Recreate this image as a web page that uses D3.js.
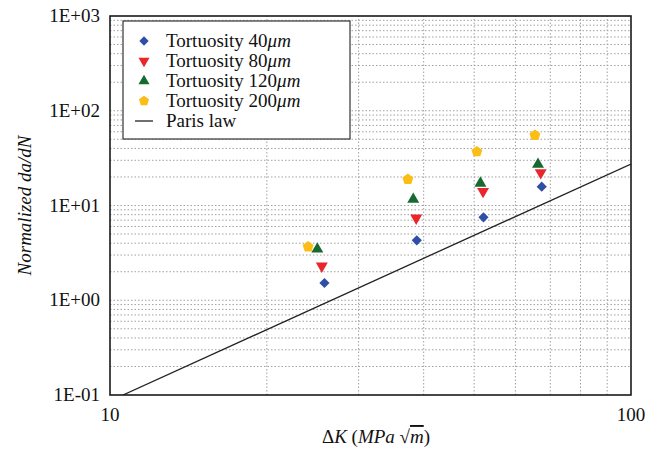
<!DOCTYPE html>
<html>
<head>
<meta charset="utf-8">
<script src="https://cdn.jsdelivr.net/npm/d3@7"></script>
<style>
  html, body { margin: 0; padding: 0; background: #fff; }
  svg { display: block; }
</style>
</head>
<body>
<svg id="chart" width="661" height="457"></svg>
<script>
// Stress intensity range (MPa·√m) and normalized crack growth rate per series
const series = ["Tortuosity 40", "Tortuosity 80", "Tortuosity 120", "Tortuosity 200"];
const deltaK40  = [25.8, 38.8, 52.1, 67.4];
const rate40    = [1.52, 4.29, 7.5, 15.8];
const deltaK80  = [25.5, 38.7, 52.0, 67.1];
const rate80    = [2.30, 7.38, 14.1, 22.2];
const deltaK120 = [25.0, 38.2, 51.4, 66.3];
const rate120   = [3.47, 11.6, 17.2, 27.2];
const deltaK200 = [24.0, 37.3, 50.6, 65.4];
const rate200   = [3.67, 18.9, 37.0, 55.0];

// Paris law reference line (end points)
const parisK    = [10.59, 100];
const parisRate = [0.1, 27.4];

const xTickValues = [10, 100];
const yTickValues = [0.1, 1, 10, 100, 1000];
const yTickLabels = ["1E-01", "1E+00", "1E+01", "1E+02", "1E+03"];

const colors = ["#2f4ea6", "#e8262b", "#176a2f", "#fbbd16"];
const FONT = "'Liberation Serif', 'Times New Roman', serif";

const svg = d3.select("#chart");
const margin = { left: 110, right: 30, top: 16, bottom: 62 };
const W = 661, H = 457;
const x = d3.scaleLog().domain([10, 100]).range([margin.left, W - margin.right]);
const y = d3.scaleLog().domain([0.1, 1000]).range([H - margin.bottom, margin.top]);

// dotted grid at every minor and major log step
const xGrid = [];
for (let v = 20; v < 100; v += 10) xGrid.push(v);
const yGrid = [];
for (let e = -1; e < 3; e++) for (let k = 1; k <= 9; k++) {
  const v = k * Math.pow(10, e);
  if (v > 0.1 * 1.0001) yGrid.push(v);
}
const grid = svg.append("g").attr("stroke", "#a0a0a0").attr("stroke-width", 1)
  .attr("stroke-dasharray", "1.5,2");
grid.selectAll("line.gx").data(xGrid).join("line")
  .attr("x1", d => x(d)).attr("x2", d => x(d))
  .attr("y1", y(0.1)).attr("y2", y(1000));
grid.selectAll("line.gy").data(yGrid.filter(v => v < 1000)).join("line")
  .attr("x1", x(10)).attr("x2", x(100))
  .attr("y1", d => y(d)).attr("y2", d => y(d));

// clipped plotting region
svg.append("clipPath").attr("id", "plotClip").append("rect")
  .attr("x", x(10)).attr("y", y(1000))
  .attr("width", x(100) - x(10)).attr("height", y(0.1) - y(1000));

// Paris law line
const line = d3.line().x(d => x(d[0])).y(d => y(d[1]));
svg.append("path")
  .attr("clip-path", "url(#plotClip)")
  .attr("d", line(parisK.map((k, i) => [k, parisRate[i]])))
  .attr("fill", "none").attr("stroke", "#222").attr("stroke-width", 1.3);

// symbol shapes
const pentagon = {
  draw(ctx, size) {
    const r = Math.sqrt(size / 2.378);
    for (let i = 0; i < 5; i++) {
      const a = -Math.PI / 2 + i * 2 * Math.PI / 5;
      const px = r * Math.cos(a), py = r * Math.sin(a);
      if (i === 0) ctx.moveTo(px, py); else ctx.lineTo(px, py);
    }
    ctx.closePath();
  }
};
const shapes = [
  { type: d3.symbolSquare, size: 52, rotate: 45 },
  { type: d3.symbolTriangle, size: 62, rotate: 180 },
  { type: d3.symbolTriangle, size: 62, rotate: 0 },
  { type: pentagon, size: 78, rotate: 0 }
];

const allSeries = [
  { k: deltaK40, r: rate40 },
  { k: deltaK80, r: rate80 },
  { k: deltaK120, r: rate120 },
  { k: deltaK200, r: rate200 }
];

allSeries.forEach((s, i) => {
  const sh = shapes[i];
  const sym = d3.symbol().type(sh.type).size(sh.size);
  svg.append("g").selectAll("path").data(s.k.map((k, j) => [k, s.r[j]])).join("path")
    .attr("d", sym)
    .attr("transform", d => `translate(${x(d[0])},${y(d[1])}) rotate(${sh.rotate})`)
    .attr("fill", colors[i]);
});

// frame
svg.append("rect")
  .attr("x", x(10)).attr("y", y(1000))
  .attr("width", x(100) - x(10)).attr("height", y(0.1) - y(1000))
  .attr("fill", "none").attr("stroke", "#1a1a1a").attr("stroke-width", 1.6);

const fs = 19;
// tick labels
svg.append("g").selectAll("text").data(yTickValues).join("text")
  .attr("x", 100).attr("y", d => y(d) + 6)
  .attr("text-anchor", "end").attr("font-size", fs).attr("fill", "#111")
  .style("font-family", FONT)
  .text((d, i) => yTickLabels[i]);
svg.append("g").selectAll("text").data(xTickValues).join("text")
  .attr("x", d => x(d)).attr("y", y(0.1) + 26)
  .attr("text-anchor", "middle").attr("font-size", fs).attr("fill", "#111")
  .style("font-family", FONT)
  .text(d => d);

// axis titles
const xt = svg.append("text").attr("x", 376).attr("y", 443)
  .attr("text-anchor", "middle").attr("font-size", fs).attr("fill", "#111")
  .style("font-family", FONT);
xt.append("tspan").text("Δ");
xt.append("tspan").attr("font-style", "italic").text("K");
xt.append("tspan").text(" (");
xt.append("tspan").attr("font-style", "italic").text("MPa ");
xt.append("tspan").text("√");
xt.append("tspan").attr("font-style", "italic").attr("text-decoration", "overline").text("m");
xt.append("tspan").text(")");

svg.append("text")
  .attr("transform", `translate(31,${(y(0.1) + y(1000)) / 2}) rotate(-90)`)
  .attr("text-anchor", "middle").attr("font-size", fs).attr("font-style", "italic")
  .attr("fill", "#111").style("font-family", FONT)
  .text("Normalized da/dN");

// legend
const lg = svg.append("g");
lg.append("rect").attr("x", 123).attr("y", 21).attr("width", 227).attr("height", 118)
  .attr("fill", "#fff").attr("stroke", "#333").attr("stroke-width", 1.2);
series.forEach((name, i) => {
  const cy = 41 + i * 20;
  const sh = shapes[i];
  lg.append("path").attr("d", d3.symbol().type(sh.type).size(sh.size * 0.85)())
    .attr("transform", `translate(144,${cy}) rotate(${sh.rotate})`)
    .attr("fill", colors[i]);
  const t = lg.append("text").attr("x", 166).attr("y", cy + 6).attr("font-size", fs)
    .attr("fill", "#111").style("font-family", FONT);
  t.append("tspan").text(name);
  t.append("tspan").attr("font-style", "italic").text("μm");
});
lg.append("line").attr("x1", 135).attr("x2", 153).attr("y1", 121).attr("y2", 121)
  .attr("stroke", "#222").attr("stroke-width", 1.3);
lg.append("text").attr("x", 166).attr("y", 127).attr("font-size", fs).attr("fill", "#111")
  .style("font-family", FONT).text("Paris law");
</script>
</body>
</html>
